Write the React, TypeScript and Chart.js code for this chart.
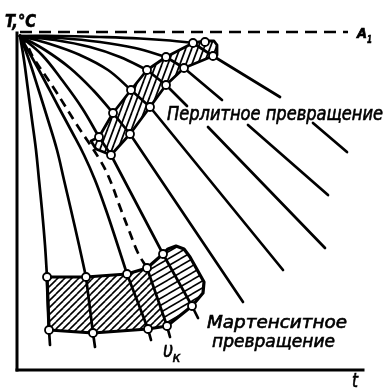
import { useEffect, useRef } from "react";
import { Chart, registerables } from "chart.js";

Chart.register(...registerables);

type Pt = [number, number] | null;

// Schematic units: t (time) 0..346 along the horizontal axis, T (temperature) 0..340 up the vertical axis.
// Critical temperature A1
const A1_LINE: Pt[] = [[3, 338], [331, 338]];

// Slow cooling curves crossing the pearlite band (arc from the start, then the part after transformation)
const P1_ARC: Pt[] = [[3, 334], [43, 334], [83, 333], [123, 331.5], [153, 329.5], [176, 327]];
const P1_TAIL: Pt[] = [[176, 327], [196, 314], [263, 273], null, [296, 247], [330, 218]];
const P2_ARC: Pt[] = [[3, 334], [43, 332], [83, 328], [118, 322], [149, 313]];
const P2_TAIL: Pt[] = [[149, 313], [167, 302], [205, 270], null, [231, 245], [311, 175]];
const P3_ARC: Pt[] = [[3, 334], [38, 330], [73, 323], [103, 313], [130, 300]];
const P3_TAIL: Pt[] = [[130, 300], [149, 285], [170, 264], null, [191, 243], [308, 122]];
const P4_ARC: Pt[] = [[3, 334], [33, 326], [63, 315], [91, 300], [114, 280]];
const P4_TAIL: Pt[] = [[114, 280], [133, 263], [266, 100]];
const P5_ARC: Pt[] = [[3, 334], [28, 320], [53, 302], [76, 280], [96, 257]];
const P5_TAIL: Pt[] = [[96, 257], [113, 236], [226, 68]];
const P6_ARC: Pt[] = [[3, 334], [25, 315], [45, 290], [65, 262], [82, 233]];
const P6_TAIL: Pt[] = [[82, 233], [94, 215], [146, 116], [175, 64], [181, 52]];

// Critical cooling rate v_k (dashed up to the martensite start)
const VK_ARC: Pt[] = [[3, 334], [10, 325], [16, 313], [38, 280], [60, 245], [83, 210], [93, 190], [103, 163], [113, 137], [121, 117], [130, 102]];
const VK_TAIL: Pt[] = [[130, 102], [150, 44], [153, 33]];

// Fast cooling curves (martensite only)
const L3_ARC: Pt[] = [[3, 334], [23, 298], [41, 264], [55, 238], [67, 215], [78, 190], [89, 160], [99, 130], [110, 96]];
const L3_TAIL: Pt[] = [[110, 96], [131, 41], [134, 30]];
const L2_ARC: Pt[] = [[3, 334], [12, 310], [21, 282], [31, 250], [40, 220], [47, 190], [54, 160], [62, 125], [69, 93]];
const L2_TAIL: Pt[] = [[69, 93], [76, 37], [78, 23]];
const L1_ARC: Pt[] = [[3, 334], [7, 310], [11, 280], [15, 250], [19, 220], [22, 190], [25, 160], [28, 125], [30, 93]];
const L1_TAIL: Pt[] = [[30, 93], [32, 40], [33, 25]];

// Transformation start / end points
const PEARLITE_START: Pt[] = [[82, 233], [96, 257], [114, 280], [130, 300], [149, 313], [176, 327], [188, 328]];
const PEARLITE_END: Pt[] = [[94, 215], [113, 236], [133, 263], [149, 285], [167, 302], [196, 314]];
const MARTENSITE_START: Pt[] = [[30, 93], [69, 93], [110, 96], [130, 102], [146, 116]];
const MARTENSITE_END: Pt[] = [[32, 40], [76, 37], [131, 41], [150, 44], [175, 64]];

// Transformation regions
const PEARLITE_BAND: Pt[] = [[74, 229], [82, 233], [96, 257], [114, 280], [130, 300], [149, 313], [176, 327], [188, 329], [197, 329], [200, 325], [200, 315], [196, 314], [167, 302], [149, 285], [133, 263], [113, 236], [94, 215], [79, 221], [74, 229]];
const MARTENSITE_ZONE: Pt[] = [[30, 93], [69, 93], [110, 96], [130, 102], [146, 116], [151, 121], [159, 124], [167, 121], [173, 113], [187, 88], [186, 77], [175, 64], [150, 44], [131, 41], [76, 37], [32, 40], [30, 93]];
const MARTENSITE_LEFT: Pt[] = [[30, 93], [69, 93], [110, 96], [130, 102], [150, 44], [131, 41], [76, 37], [32, 40]];
const MARTENSITE_RIGHT: Pt[] = [[130, 102], [146, 116], [151, 121], [159, 124], [167, 121], [173, 113], [187, 88], [186, 77], [175, 64], [150, 44]];

// Texts
const AXIS_Y_LABEL = "T,°C";
const AXIS_X_LABEL = "t";
const A1_LABEL = ["A", "1"];
const VK_LABEL = ["υ", "к"];
const PEARLITE_LABEL = "Перлитное превращение";
const MARTENSITE_LABEL = ["Мартенситное", "превращение"];

const FONT = '"Liberation Sans Narrow", "DejaVu Sans Condensed", "Liberation Sans", sans-serif';

const toXY = (pts: Pt[]) => pts.map((p) => (p ? { x: p[0], y: p[1] } : { x: NaN, y: NaN }));

const line = (pts: Pt[], extra: Record<string, unknown> = {}) => ({
  data: toXY(pts),
  showLine: true,
  borderColor: "#000",
  borderWidth: 2.7,
  pointRadius: 0,
  fill: false,
  tension: 0,
  spanGaps: false,
  clip: false,
  borderCapStyle: "round",
  borderJoinStyle: "round",
  ...extra,
});

function makeHatch(ctx: CanvasRenderingContext2D, w: number, h: number, lw: number) {
  const c = document.createElement("canvas");
  c.width = w;
  c.height = h;
  const g = c.getContext("2d")!;
  g.strokeStyle = "#000";
  g.lineWidth = lw;
  for (const dx of [-w, 0, w]) {
    for (const dy of [-h, 0, h]) {
      g.beginPath();
      g.moveTo(dx, h + dy);
      g.lineTo(w + dx, dy);
      g.stroke();
    }
  }
  return ctx.createPattern(c, "repeat");
}

const hatchPlugin = {
  id: "hatchRegions",
  beforeDatasetsDraw(chart: any) {
    const { ctx, scales } = chart;
    const fills: [Pt[], CanvasPattern | null][] = [
      [PEARLITE_BAND, makeHatch(ctx, 6, 16, 1.7)],
      [MARTENSITE_LEFT, makeHatch(ctx, 7, 7, 1.6)],
      [MARTENSITE_RIGHT, makeHatch(ctx, 12, 7, 1.6)],
    ];
    ctx.save();
    for (const [poly, pat] of fills) {
      ctx.beginPath();
      poly.forEach((p, i) => {
        if (!p) return;
        const x = scales.x.getPixelForValue(p[0]);
        const y = scales.y.getPixelForValue(p[1]);
        if (i === 0) ctx.moveTo(x, y);
        else ctx.lineTo(x, y);
      });
      ctx.closePath();
      ctx.fillStyle = "#fff";
      ctx.fill();
      if (pat) {
        ctx.fillStyle = pat;
        ctx.fill();
      }
    }
    ctx.restore();
  },
};

function fitText(ctx: CanvasRenderingContext2D, text: string, x: number, y: number, font: string, width: number) {
  ctx.save();
  ctx.font = font;
  const w = ctx.measureText(text).width;
  ctx.translate(x, y);
  ctx.scale(width / w, 1);
  ctx.lineWidth = 0.6;
  ctx.strokeStyle = "#000";
  ctx.fillText(text, 0, 0);
  ctx.strokeText(text, 0, 0);
  ctx.restore();
}

const labelPlugin = {
  id: "diagramLabels",
  afterDatasetsDraw(chart: any) {
    const { ctx, scales } = chart;
    const X = (t: number) => scales.x.getPixelForValue(t);
    const Y = (T: number) => scales.y.getPixelForValue(T);
    ctx.save();
    ctx.fillStyle = "#000";
    ctx.textBaseline = "alphabetic";
    ctx.textAlign = "left";
    fitText(ctx, AXIS_Y_LABEL, X(-12), Y(343), `italic bold 18px ${FONT}`, 31);
    fitText(ctx, AXIS_X_LABEL, X(335), Y(-17), `italic 19px ${FONT}`, 6);
    fitText(ctx, A1_LABEL[0], X(340), Y(332), `italic bold 14px ${FONT}`, 10);
    fitText(ctx, A1_LABEL[1], X(350), Y(327), `italic bold 11px ${FONT}`, 5);
    fitText(ctx, VK_LABEL[0], X(146), Y(13), `italic 22px ${FONT}`, 10);
    fitText(ctx, VK_LABEL[1], X(155.5), Y(8), `italic 14px ${FONT}`, 8);
    fitText(ctx, PEARLITE_LABEL, X(150), Y(250), `italic 19px ${FONT}`, 216);
    fitText(ctx, MARTENSITE_LABEL[0], X(190), Y(42), `italic 18px ${FONT}`, 140);
    fitText(ctx, MARTENSITE_LABEL[1], X(195), Y(23), `italic 18px ${FONT}`, 123);
    ctx.restore();
  },
};

export default function App() {
  const ref = useRef<HTMLCanvasElement>(null);

  useEffect(() => {
    const canvas = ref.current;
    if (!canvas) return;
    const arcs = [P1_ARC, P2_ARC, P3_ARC, P4_ARC, P5_ARC, P6_ARC, L3_ARC, L2_ARC, L1_ARC];
    const tails = [P1_TAIL, P2_TAIL, P3_TAIL, P4_TAIL, P5_TAIL, P6_TAIL, VK_TAIL, L3_TAIL, L2_TAIL, L1_TAIL];
    const datasets: any[] = [
      {
        data: toXY([...PEARLITE_START, ...PEARLITE_END, ...MARTENSITE_START, ...MARTENSITE_END]),
        showLine: false,
        pointRadius: 4,
        pointBackgroundColor: "#fff",
        pointBorderColor: "#000",
        pointBorderWidth: 1.8,
        clip: false,
        order: -1,
      },
      line([[0, 0], [0, 337]], { borderWidth: 3, borderCapStyle: "square" }),
      line([[0, 0], [346, 0]], { borderWidth: 3, borderCapStyle: "square" }),
      line(A1_LINE, { borderDash: [12, 7], borderCapStyle: "butt" }),
      line(PEARLITE_BAND, { borderWidth: 2.8 }),
      line(MARTENSITE_ZONE, { borderWidth: 3.2 }),
      line(VK_ARC, { borderDash: [9, 6], borderCapStyle: "butt", tension: 0.4 }),
      ...arcs.map((a) => line(a, { tension: 0.4 })),
      ...tails.map((t) => line(t)),
    ];
    const chart = new Chart(canvas, {
      type: "scatter",
      data: { datasets },
      options: {
        responsive: false,
        animation: false,
        devicePixelRatio: 1,
        events: [],
        layout: { padding: { left: 17, right: 25, top: 30, bottom: 19 } },
        scales: {
          x: { type: "linear", min: 0, max: 346, display: false },
          y: { type: "linear", min: 0, max: 340, display: false },
        },
        plugins: { legend: { display: false }, tooltip: { enabled: false } },
      },
      plugins: [hatchPlugin, labelPlugin],
    });
    return () => chart.destroy();
  }, []);

  return (
    <div style={{ position: "absolute", left: 0, top: 0, width: 388, height: 389, background: "#fff" }}>
      <canvas ref={ref} width={388} height={389} style={{ display: "block" }} />
    </div>
  );
}
